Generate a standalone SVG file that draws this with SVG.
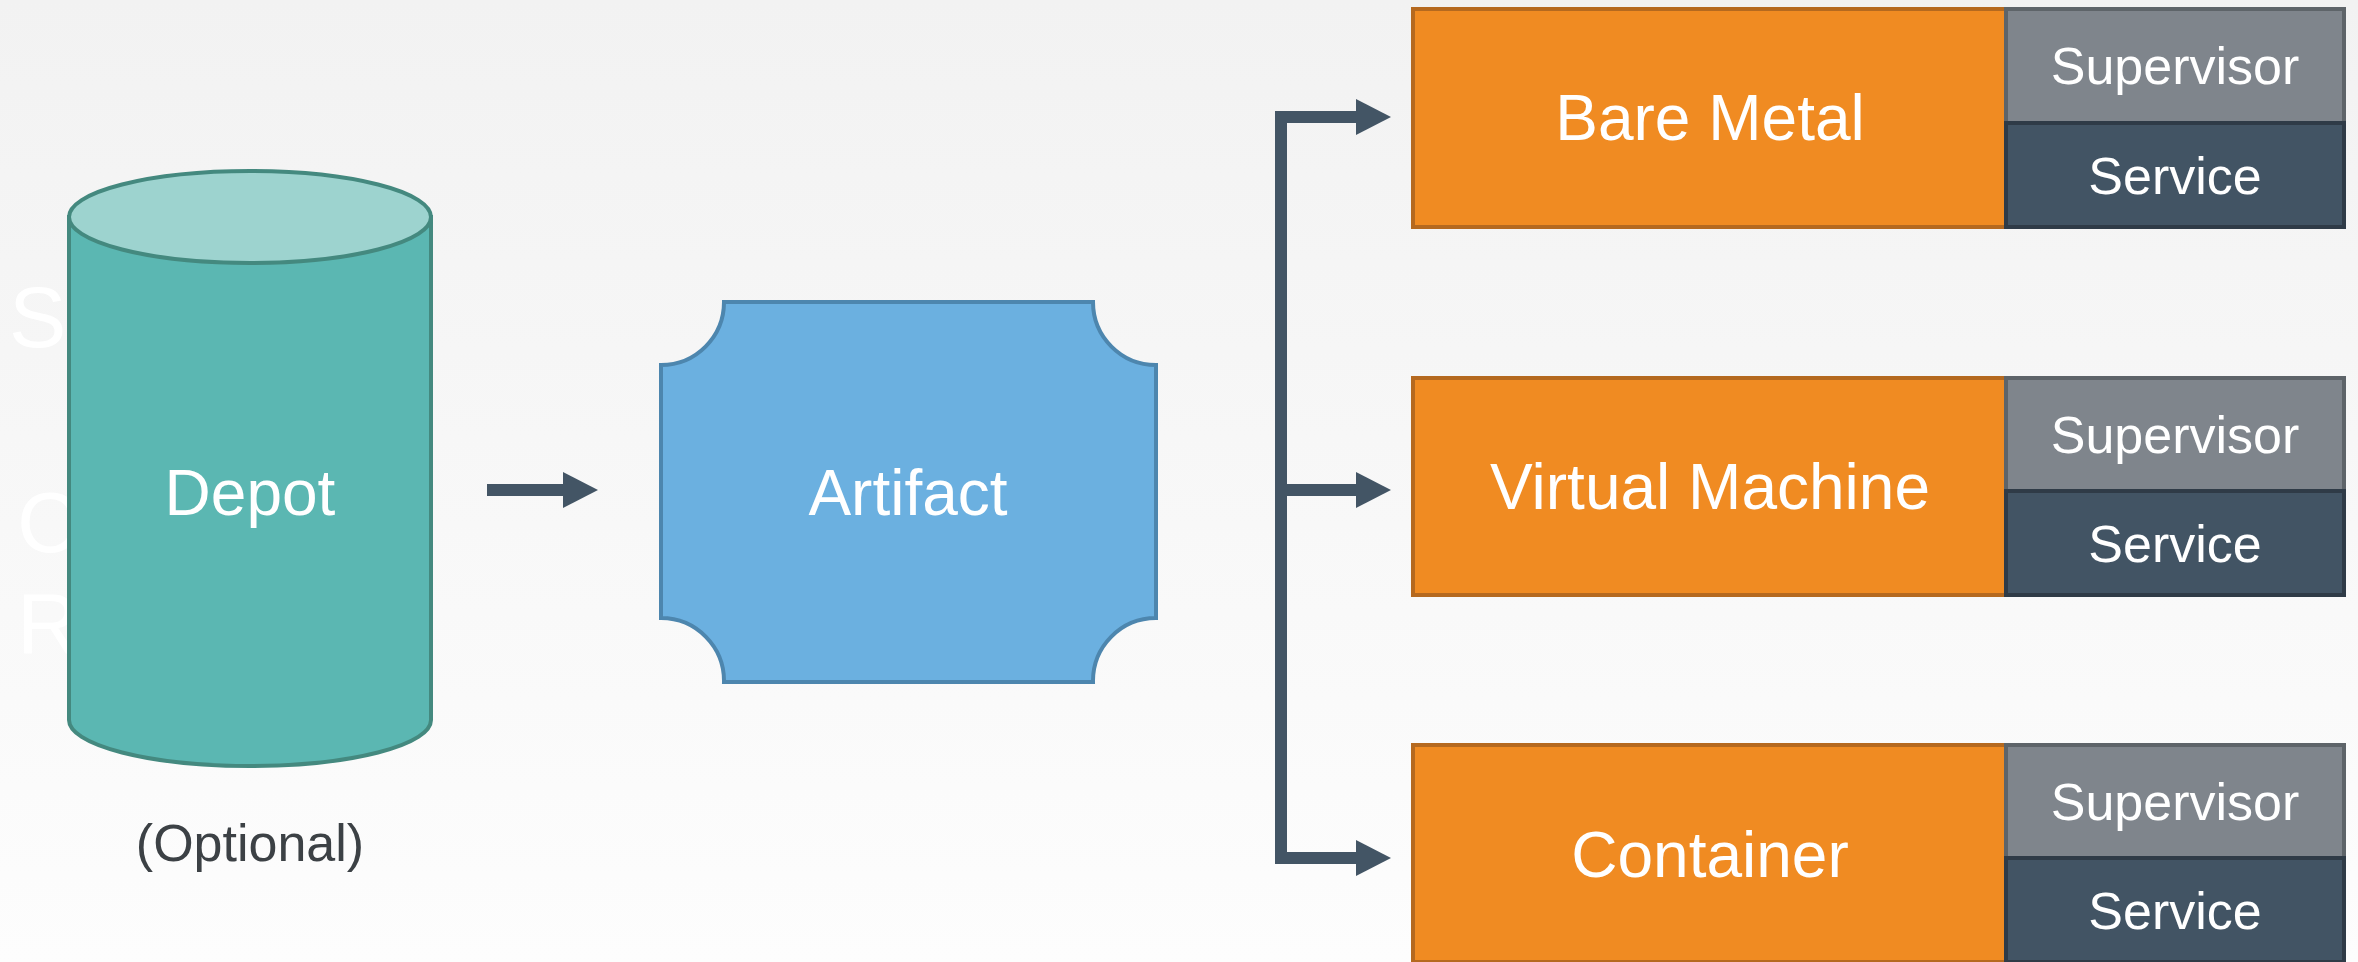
<svg xmlns="http://www.w3.org/2000/svg" width="2358" height="962" viewBox="0 0 2358 962">
  <defs>
    <linearGradient id="bg" x1="0" y1="0" x2="0" y2="1">
      <stop offset="0" stop-color="#f2f2f2"/>
      <stop offset="1" stop-color="#fdfdfd"/>
    </linearGradient>
    <marker id="head" viewBox="0 0 35 36" markerUnits="userSpaceOnUse" markerWidth="35" markerHeight="36" refX="0" refY="18" orient="auto-start-reverse">
      <path d="M0,0 L35,18 L0,36 Z" fill="#435565"/>
    </marker>
    <style>
      text { font-family: "Liberation Sans", Arial, sans-serif; text-anchor: middle; }
      .big { font-size: 64px; fill: #ffffff; }
      .small { font-size: 52px; fill: #ffffff; }
      .ghost { font-size: 86px; fill: #ffffff; text-anchor: start; }
      .env { fill: #f08b22; stroke: #b5691f; stroke-width: 4; }
      .sup { fill: #7f858c; stroke: #5e6469; stroke-width: 4; }
      .svc { fill: #425464; stroke: #2f3b47; stroke-width: 4; }
      .conn { fill: none; stroke: #435565; stroke-width: 12; stroke-linejoin: miter; }
    </style>
  </defs>

  <rect x="0" y="0" width="2358" height="962" fill="url(#bg)"/>

  <g id="ghost-letters">
    <text class="ghost" x="9" y="347">S</text>
    <text class="ghost" x="17" y="552">C</text>
    <text class="ghost" x="17" y="653">R</text>
  </g>

  <g id="depot">
    <path d="M69,217 L69,720 A181,46 0 0 0 431,720 L431,217 Z" fill="#5bb7b2" stroke="#44897f" stroke-width="4"/>
    <ellipse cx="250" cy="217" rx="181" ry="46" fill="#9dd3cf" stroke="#44897f" stroke-width="4"/>
    <text class="big" x="250" y="515">Depot</text>
  </g>

  <g id="optional-label">
    <text x="250" y="861" font-size="52" fill="#3c4145">(Optional)</text>
  </g>

  <g id="artifact">
    <path d="M724,302 L1093,302 A63,63 0 0 0 1156,365 L1156,618 A63,63 0 0 0 1093,682 L724,682 A63,63 0 0 0 661,618 L661,365 A63,63 0 0 0 724,302 Z" fill="#6bb0e0" stroke="#4d86ae" stroke-width="4"/>
    <text class="big" x="908" y="515">Artifact</text>
  </g>

  <g id="bare-metal">
    <rect class="env" x="1413" y="9" width="593" height="218"/>
    <rect class="sup" x="2006" y="9" width="338" height="114"/>
    <rect class="svc" x="2006" y="123" width="338" height="104"/>
    <text class="big" x="1710" y="140">Bare Metal</text>
    <text class="small" x="2175" y="84">Supervisor</text>
    <text class="small" x="2175" y="194">Service</text>
  </g>

  <g id="virtual-machine">
    <rect class="env" x="1413" y="378" width="593" height="217"/>
    <rect class="sup" x="2006" y="378" width="338" height="113"/>
    <rect class="svc" x="2006" y="491" width="338" height="104"/>
    <text class="big" x="1710" y="509">Virtual Machine</text>
    <text class="small" x="2175" y="453">Supervisor</text>
    <text class="small" x="2175" y="562">Service</text>
  </g>

  <g id="container">
    <rect class="env" x="1413" y="745" width="593" height="217"/>
    <rect class="sup" x="2006" y="745" width="338" height="113"/>
    <rect class="svc" x="2006" y="858" width="338" height="104"/>
    <text class="big" x="1710" y="877">Container</text>
    <text class="small" x="2175" y="820">Supervisor</text>
    <text class="small" x="2175" y="929">Service</text>
  </g>

  <g id="connectors">
    <path class="conn" d="M487,490 H563" marker-end="url(#head)"/>
    <path class="conn" d="M1356,117 H1281 V858 H1356" marker-start="url(#head)" marker-end="url(#head)"/>
    <path class="conn" d="M1281,490 H1356" marker-end="url(#head)"/>
  </g>
</svg>
